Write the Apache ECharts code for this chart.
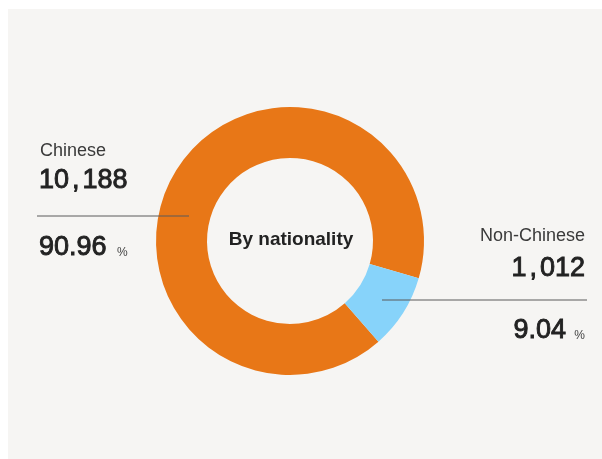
<!DOCTYPE html>
<html>
<head>
<meta charset="utf-8">
<title>By nationality</title>
<script src="https://cdn.jsdelivr.net/npm/echarts@6/dist/echarts.min.js"></script>
<style>
  html, body { margin: 0; padding: 0; background: #ffffff; }
  #chart { width: 602px; height: 459px; }
</style>
</head>
<body>
<div id="chart"></div>
<script>
// Headcount split by nationality
const categories = ['Chinese', 'Non-Chinese'];
const counts = [10188, 1012];
const percents = ['90.96', '9.04'];
const centerTitle = 'By nationality';

const colors = ['#e87717', '#87d3fa'];
const cx = 290, cy = 241;

const chart = echarts.init(document.getElementById('chart'), null, { renderer: 'canvas' });

const ink = '#222222';
// big figures: medium-weight sans, emboldened slightly with a thin stroke
const numberStyle = { fontFamily: 'Liberation Sans', fontSize: 27, fill: ink, stroke: ink, lineWidth: 0.9, textVerticalAlign: 'middle' };
const nameStyle = { fontFamily: 'Liberation Sans', fontSize: 18, fill: '#3a3a3a', textVerticalAlign: 'middle' };
const pctStyle = { fontFamily: 'Liberation Sans', fontSize: 12, fill: '#444444', textVerticalAlign: 'middle' };

// counts are drawn with a slightly wider thousands separator
function countText(n) {
  const parts = n.toLocaleString('en-US').split(',');
  return parts.map(p => '{d|' + p + '}').join('{c|,}');
}
const countRich = {
  d: { fontFamily: 'Liberation Sans', fontSize: 27, fill: ink, stroke: ink, lineWidth: 0.9 },
  c: { fontFamily: 'Liberation Sans', fontSize: 27, fill: ink, stroke: ink, lineWidth: 0.9, padding: [0, 3, 0, 3] }
};

function countGraphic(n, x, y, align) {
  return {
    type: 'text', x: x, y: y, z: 10,
    style: { text: countText(n), rich: countRich, textAlign: align, textVerticalAlign: 'middle' }
  };
}

// Left block: Chinese
const leftBlock = [
  { type: 'text', x: 40, y: 151.5, z: 10, style: Object.assign({ text: categories[0], textAlign: 'left' }, nameStyle) },
  countGraphic(counts[0], 39, 181, 'left'),
  { type: 'line', z: 10, shape: { x1: 37, y1: 216, x2: 189, y2: 216 }, style: { stroke: '#5a5a5a', lineWidth: 1 } },
  { type: 'text', x: 39, y: 248, z: 10, style: Object.assign({ text: percents[0], textAlign: 'left' }, numberStyle) },
  { type: 'text', x: 117, y: 253, z: 10, style: Object.assign({ text: '%', textAlign: 'left' }, pctStyle) }
];

// Right block: Non-Chinese, right-aligned
const rightBlock = [
  { type: 'text', x: 585, y: 236.5, z: 10, style: Object.assign({ text: categories[1], textAlign: 'right' }, nameStyle) },
  countGraphic(counts[1], 585, 268.5, 'right'),
  { type: 'line', z: 10, shape: { x1: 382, y1: 300, x2: 587, y2: 300 }, style: { stroke: '#5a5a5a', lineWidth: 1 } },
  { type: 'text', x: 566, y: 331, z: 10, style: Object.assign({ text: percents[1], textAlign: 'right' }, numberStyle) },
  { type: 'text', x: 585, y: 336, z: 10, style: Object.assign({ text: '%', textAlign: 'right' }, pctStyle) }
];

const option = {
  backgroundColor: '#ffffff',
  animation: false,
  graphic: [
    { type: 'rect', z: -10, silent: true, shape: { x: 8, y: 9, width: 594, height: 450 }, style: { fill: '#f6f5f3' } },
    {
      type: 'text', x: cx + 1, y: 239.5, z: 10,
      style: { text: centerTitle, fontFamily: 'Liberation Sans', fontSize: 19, fontWeight: 'bold', fill: ink, textAlign: 'center', textVerticalAlign: 'middle' }
    }
  ].concat(leftBlock, rightBlock),
  series: [{
    type: 'pie',
    center: [cx, cy],
    radius: [83, 134],
    startAngle: 311.3,
    clockwise: true,
    silent: true,
    label: { show: false },
    labelLine: { show: false },
    itemStyle: { borderWidth: 0 },
    data: categories.map((name, i) => ({ name, value: counts[i], itemStyle: { color: colors[i] } }))
  }]
};

chart.setOption(option);
</script>
</body>
</html>
